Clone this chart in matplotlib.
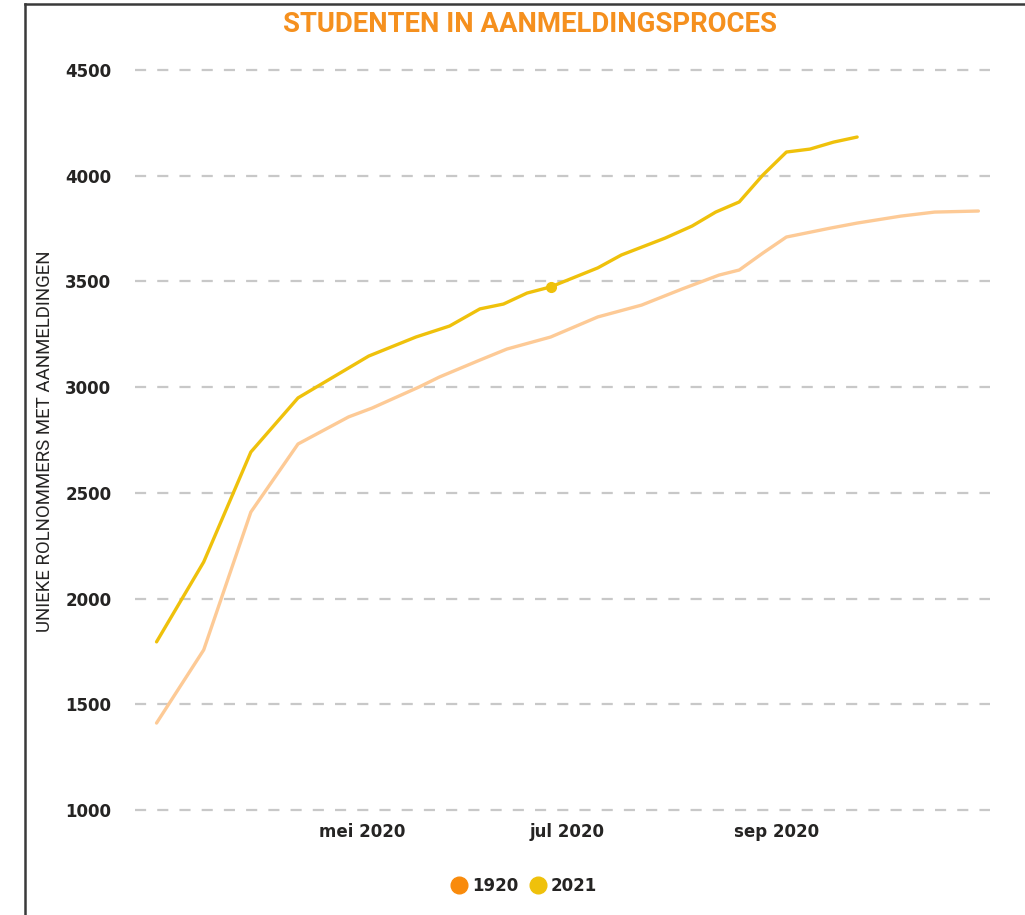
import matplotlib.pyplot as plt
import matplotlib.dates as mdates
import pandas as pd
from matplotlib.lines import Line2D

# studenten in aanmeldingsproces, 1920 vs 2021 (x-as op kalender 2020)
dates_1920 = ["2020-03-01", "2020-03-15", "2020-03-29", "2020-04-12", "2020-04-27",
              "2020-05-04", "2020-05-18", "2020-05-24", "2020-06-05", "2020-06-13",
              "2020-06-26", "2020-07-10", "2020-07-23", "2020-08-04", "2020-08-15",
              "2020-08-21", "2020-08-28", "2020-09-04", "2020-09-17", "2020-09-25",
              "2020-10-08", "2020-10-18", "2020-10-31"]
values_1920 = [1411, 1757, 2409, 2731, 2859, 2901, 3001, 3048, 3128, 3180,
               3237, 3332, 3388, 3464, 3530, 3554, 3634, 3710, 3752, 3776,
               3809, 3828, 3833]

dates_2021 = ["2020-03-01", "2020-03-15", "2020-03-29", "2020-04-12", "2020-05-03",
              "2020-05-17", "2020-05-27", "2020-06-05", "2020-06-12", "2020-06-19",
              "2020-06-26", "2020-07-10", "2020-07-17", "2020-07-30", "2020-08-07",
              "2020-08-14", "2020-08-21", "2020-08-28", "2020-09-04", "2020-09-11",
              "2020-09-18", "2020-09-25"]
values_2021 = [1795, 2173, 2693, 2949, 3147, 3237, 3289, 3370, 3393, 3445,
               3474, 3564, 3625, 3705, 3762, 3828, 3876, 4003, 4112, 4126,
               4159, 4183]

series_labels = ["1920", "2021"]
month_ticks = ["2020-05-01", "2020-07-01", "2020-09-01"]
month_labels = ["mei 2020", "jul 2020", "sep 2020"]
y_ticks = [1000, 1500, 2000, 2500, 3000, 3500, 4000, 4500]

col_1920_line = "#FDCA96"
col_1920 = "#F98B0C"
col_2021 = "#EFC10B"
text_col = "#252423"

fig = plt.figure(figsize=(10.25, 9.15), dpi=100)
ax = fig.add_axes([0.1317, 0.1102, 0.834, 0.8179])

ax.plot(pd.to_datetime(dates_1920), values_1920, color=col_1920_line, lw=2.4,
        solid_capstyle="round", solid_joinstyle="round")
ax.plot(pd.to_datetime(dates_2021), values_2021, color=col_2021, lw=2.4,
        solid_capstyle="round", solid_joinstyle="round",
        marker="o", markevery=[10], ms=7)

ax.set_ylim(980, 4520)
ax.set_yticks(y_ticks)
ax.set_yticklabels([str(v) for v in y_ticks])

may1 = mdates.date2num(pd.Timestamp("2020-05-01"))
ax.set_xlim(may1 - 67.4, may1 + 186.4)
ax.set_xticks(pd.to_datetime(month_ticks))
ax.set_xticklabels(month_labels)

ax.yaxis.grid(True, color="#C8C8C8", lw=1.6, linestyle=(0, (5, 5)))
ax.xaxis.grid(False)
ax.set_axisbelow(True)
for s in ax.spines.values():
    s.set_visible(False)

ax.tick_params(axis="y", length=0, pad=17, labelsize=12, labelcolor=text_col)
ax.tick_params(axis="x", length=0, pad=6, labelsize=12, labelcolor=text_col)
for lab in ax.get_xticklabels() + ax.get_yticklabels():
    lab.set_fontweight("bold")

fig.text(0.517, 0.973, "STUDENTEN IN AANMELDINGSPROCES", ha="center", va="center",
         color="#F5901E", fontsize=19.8, fontweight="bold", family="Roboto")

fig.text(45 / 1025, 1 - 441 / 915, "UNIEKE ROLNOMMERS MET AANMELDINGEN",
         rotation=90, ha="center", va="center", color=text_col, fontsize=13.4,
         family="Roboto")

handles = [Line2D([], [], ls="", marker="o", ms=12, color=col_1920),
           Line2D([], [], ls="", marker="o", ms=12, color=col_2021)]
leg = fig.legend(handles, series_labels, loc="center", bbox_to_anchor=(0.511, 1 - 886 / 915),
                 ncol=2, frameon=False, handletextpad=0.25, columnspacing=0.7,
                 handlelength=1.0, prop={"weight": "bold", "size": 12})
for t in leg.get_texts():
    t.set_color(text_col)

# rand van het visual
fig.add_artist(Line2D([25 / 1025, 1], [1 - 4 / 915, 1 - 4 / 915], color="#3a3a3a", lw=1.8))
fig.add_artist(Line2D([25 / 1025, 25 / 1025], [0, 1 - 4 / 915], color="#3a3a3a", lw=1.8))

fig.savefig("out.png", dpi=100)
